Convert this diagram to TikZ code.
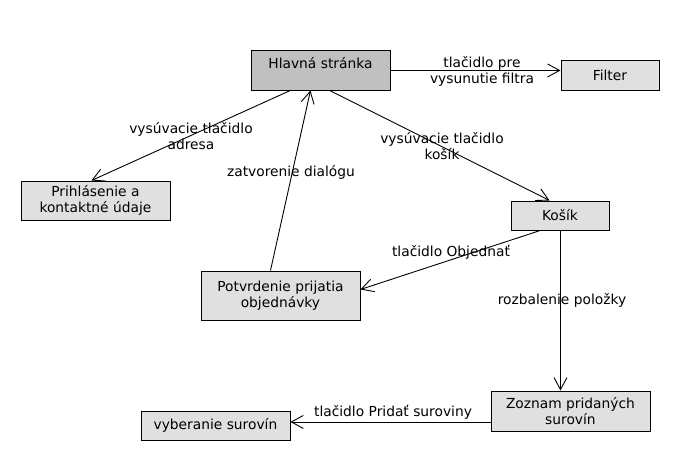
\documentclass[tikz,border=0pt]{standalone}
\usepackage{fontspec}
\setmainfont{DejaVu Sans}
\usetikzlibrary{arrows.meta,calc}
\definecolor{boxlight}{HTML}{E0E0E0}
\definecolor{boxdark}{HTML}{C0C0C0}
\begin{document}
\begin{tikzpicture}[x=1pt,y=-1pt,
  every node/.style={font=\fontsize{13.8}{16}\selectfont},
  box/.style={draw=black,line width=0.9pt,fill=boxlight,anchor=north west,inner sep=0pt,align=center},
  lbl/.style={align=center,inner sep=0pt},
  conn/.style={draw=black,line width=0.9pt,-{Straight Barb[length=12pt,width=13pt,line width=0.9pt]}}]
\useasboundingbox[fill=white] (0,0) rectangle (680,460);
% nodes
\node[box,fill=boxdark,minimum width=139,minimum height=39,text height=11pt,text depth=15.4pt] (h) at (250.5,50.5) {Hlavná stránka};
\node[box,minimum width=98,minimum height=29] (f) at (560.5,60.5) {Filter};
\node[box,minimum width=149,minimum height=39] (p) at (20.5,180.5) {Prihlásenie a\\kontaktné údaje};
\node[box,minimum width=98,minimum height=29] (k) at (510.5,200.5) {Košík};
\node[box,minimum width=159,minimum height=49] (o) at (200.5,270.5) {Potvrdenie prijatia\\objednávky};
\node[box,minimum width=159,minimum height=40] (z) at (490.5,390.5) {Zoznam pridaných\\surovín};
\node[box,minimum width=149,minimum height=29] (v) at (140.5,410.5) {vyberanie surovín};
% connectors
\draw[conn] (h.east) -- (h.east -| f.west);
\draw[conn] ([xshift=40]h.south west) -- ([xshift=71]p.north west);
\draw[conn] ([xshift=70]o.north west) -- ([xshift=60]h.south west);
\draw[conn] ([xshift=79]h.south west) -- ([xshift=39]k.north west);
\draw[conn] ([xshift=30]k.south west) -- ([yshift=-19]o.north east);
\draw[conn] ([xshift=50]k.south west) -- ([xshift=50]k.south west |- z.north);
\draw[conn] ([yshift=-11]z.west) -- ([yshift=-11]z.west -| v.east);
% labels
\node[lbl] (l1) at (482,71) {tlačidlo pre\\vysunutie filtra};
\node[lbl] (l2) at (191,136) {vysúvacie tlačidlo\\adresa};
\node[lbl] (l3) at (291,172) {zatvorenie dialógu};
\node[lbl] (l4) at (442,146) {vysúvacie tlačidlo\\košík};
\node[lbl] (l5) at (451,252) {tlačidlo Objednať};
\node[lbl] (l6) at (562,300) {rozbalenie položky};
\node[lbl] (l7) at (393,412) {tlačidlo Pridať suroviny};
\end{tikzpicture}
\end{document}
